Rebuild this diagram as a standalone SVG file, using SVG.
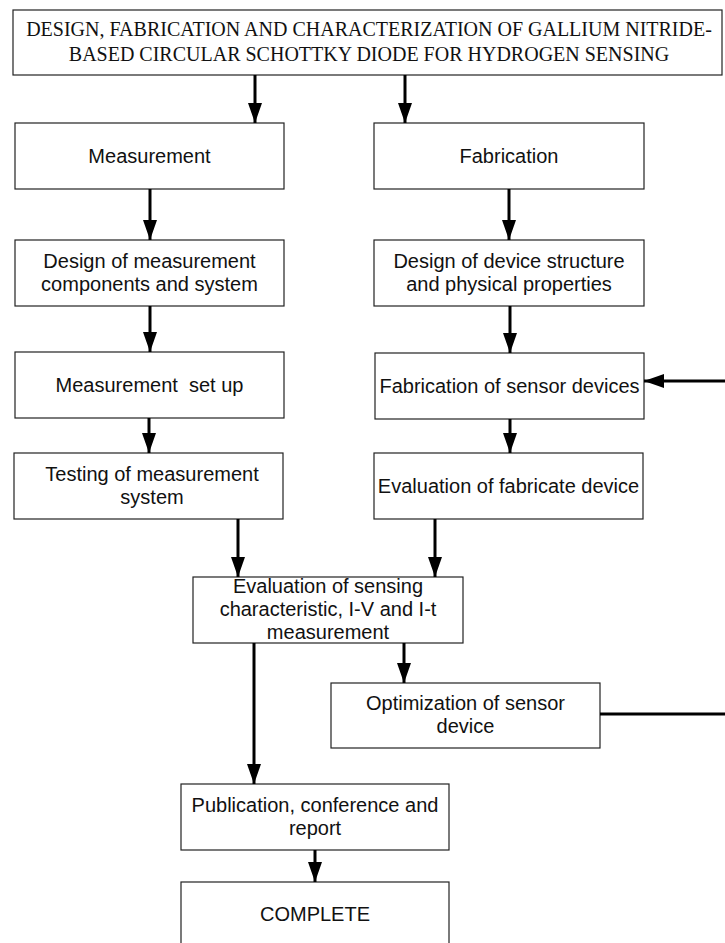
<svg xmlns="http://www.w3.org/2000/svg" width="725" height="943" viewBox="0 0 725 943">
<style>
.box{fill:#fff;stroke:#222;stroke-width:1.2}
.t{font-family:"Liberation Sans",Arial,sans-serif;font-size:20px;fill:#111;text-anchor:middle}
.tt{font-family:"Liberation Serif","Times New Roman",serif;font-size:20px;fill:#111;text-anchor:middle}
.c{stroke:#000;stroke-width:3;fill:none}
</style>
<defs>
<marker id="ah" viewBox="0 0 20 14" refX="20" refY="7" markerWidth="20" markerHeight="14" markerUnits="userSpaceOnUse" orient="auto">
<path d="M0,0 L20,7 L0,14 z" fill="#000"/>
</marker>
</defs>
<rect width="725" height="943" fill="#fff"/>
<g id="title">
<rect class="box" x="13" y="10" width="709" height="65"/>
<text class="tt" x="369" y="36">DESIGN, FABRICATION AND CHARACTERIZATION OF GALLIUM NITRIDE-</text>
<text class="tt" x="369" y="61">BASED CIRCULAR SCHOTTKY DIODE FOR HYDROGEN SENSING</text>
</g>
<g id="measurement">
<rect class="box" x="15" y="123" width="269" height="66"/>
<text class="t" x="149.5" y="163">Measurement</text>
</g>
<g id="fabrication">
<rect class="box" x="374" y="123" width="270" height="66"/>
<text class="t" x="509" y="163">Fabrication</text>
</g>
<g id="design-measurement">
<rect class="box" x="15" y="240" width="269" height="66"/>
<text class="t" x="149.5" y="268">Design of measurement</text>
<text class="t" x="149.5" y="291">components and system</text>
</g>
<g id="design-device">
<rect class="box" x="374" y="240" width="270" height="66"/>
<text class="t" x="509" y="268">Design of device structure</text>
<text class="t" x="509" y="291">and physical properties</text>
</g>
<g id="measurement-setup">
<rect class="box" x="15" y="352" width="269" height="66"/>
<text class="t" x="149.5" y="392" style="white-space:pre">Measurement  set up</text>
</g>
<g id="fabrication-sensor">
<rect class="box" x="375" y="353" width="269" height="66"/>
<text class="t" x="509.5" y="393">Fabrication of sensor devices</text>
</g>
<g id="testing">
<rect class="box" x="14" y="453" width="269" height="66"/>
<text class="t" x="152" y="481">Testing of measurement</text>
<text class="t" x="152" y="504">system</text>
</g>
<g id="evaluation-fabricate">
<rect class="box" x="374" y="453" width="269" height="66"/>
<text class="t" x="508.5" y="493">Evaluation of fabricate device</text>
</g>
<g id="evaluation-sensing">
<rect class="box" x="193" y="577" width="270" height="66"/>
<text class="t" x="328" y="593">Evaluation of sensing</text>
<text class="t" x="328" y="616">characteristic, I-V and I-t</text>
<text class="t" x="328" y="639">measurement</text>
</g>
<g id="optimization">
<rect class="box" x="331" y="683" width="269" height="65"/>
<text class="t" x="465.5" y="710">Optimization of sensor</text>
<text class="t" x="465.5" y="733">device</text>
</g>
<g id="publication">
<rect class="box" x="181" y="784" width="268" height="66"/>
<text class="t" x="315" y="812">Publication, conference and</text>
<text class="t" x="315" y="835">report</text>
</g>
<g id="complete">
<rect class="box" x="181" y="882" width="268" height="70"/>
<text class="t" x="315" y="921">COMPLETE</text>
</g>
<g id="connectors">
<line class="c" x1="255" y1="75" x2="255" y2="123" marker-end="url(#ah)"/>
<line class="c" x1="405" y1="75" x2="405" y2="123" marker-end="url(#ah)"/>
<line class="c" x1="150" y1="189" x2="150" y2="240" marker-end="url(#ah)"/>
<line class="c" x1="509" y1="189" x2="509" y2="240" marker-end="url(#ah)"/>
<line class="c" x1="150" y1="306" x2="150" y2="352" marker-end="url(#ah)"/>
<line class="c" x1="510" y1="306" x2="510" y2="353" marker-end="url(#ah)"/>
<line class="c" x1="149" y1="418" x2="149" y2="453" marker-end="url(#ah)"/>
<line class="c" x1="510" y1="419" x2="510" y2="453" marker-end="url(#ah)"/>
<line class="c" x1="726" y1="381" x2="644" y2="381" marker-end="url(#ah)"/>
<line class="c" x1="600" y1="714" x2="726" y2="714"/>
<line class="c" x1="238" y1="519" x2="238" y2="577" marker-end="url(#ah)"/>
<line class="c" x1="435" y1="519" x2="435" y2="577" marker-end="url(#ah)"/>
<line class="c" x1="404" y1="643" x2="404" y2="683" marker-end="url(#ah)"/>
<line class="c" x1="254" y1="643" x2="254" y2="784" marker-end="url(#ah)"/>
<line class="c" x1="315" y1="850" x2="315" y2="882" marker-end="url(#ah)"/>
</g>
</svg>
